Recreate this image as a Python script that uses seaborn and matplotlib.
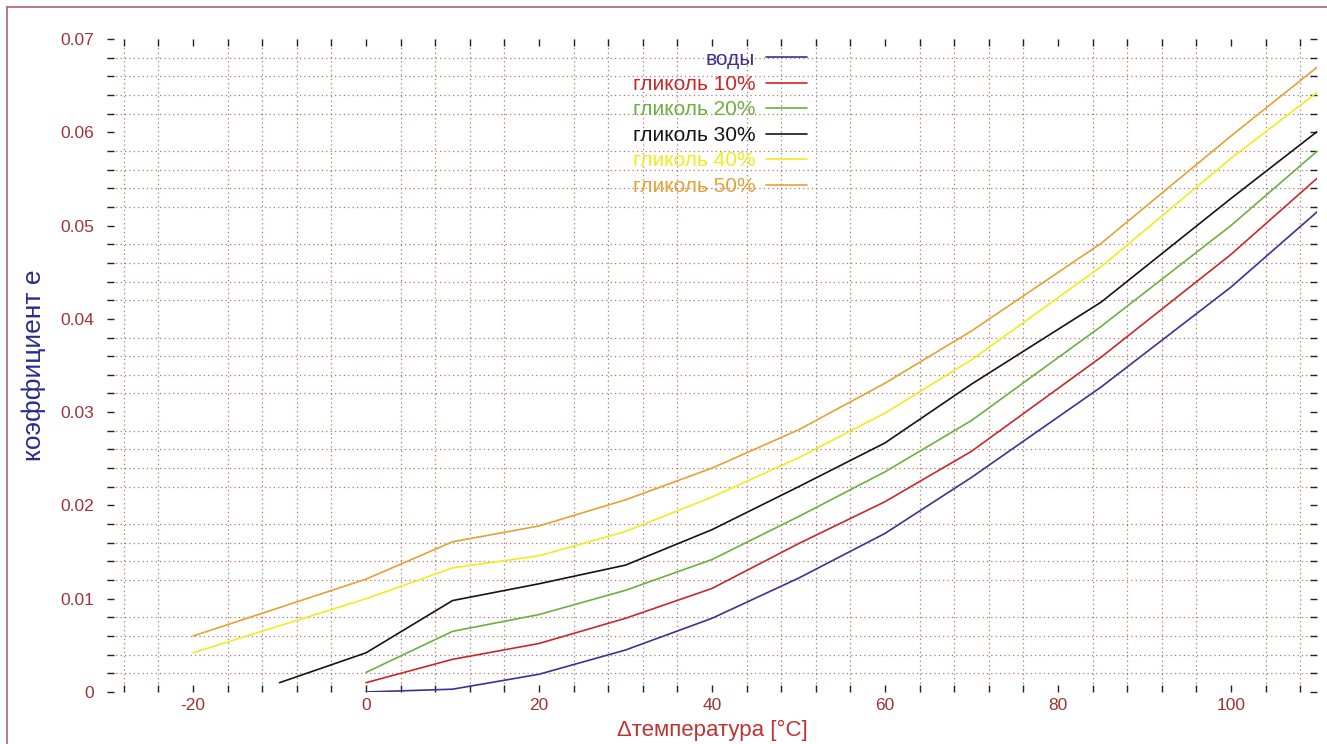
import matplotlib
matplotlib.use("Agg")
import matplotlib.pyplot as plt
import numpy as np
import pandas as pd
import seaborn as sns
from matplotlib.lines import Line2D

# temperatures (°C) for each curve
x_water = [0, 10, 20, 30, 40, 50, 60, 70, 85, 100, 110]
x_g10 = [0, 10, 20, 30, 40, 50, 60, 70, 85, 100, 110]
x_g20 = [0, 10, 20, 30, 40, 50, 60, 70, 85, 100, 110]
x_g30 = [-10, 0, 10, 20, 30, 40, 50, 60, 70, 85, 100, 110]
x_g40 = [-20, 0, 10, 20, 30, 40, 50, 60, 70, 85, 100, 110]
x_g50 = [-20, 0, 10, 20, 30, 40, 50, 60, 70, 85, 100, 110]

# coefficient e
water = [0.0, 0.0003, 0.0019, 0.0045, 0.0079, 0.0122, 0.0170, 0.0230, 0.0327, 0.0434, 0.0515]
g10 = [0.0010, 0.0035, 0.0052, 0.0079, 0.0111, 0.0159, 0.0204, 0.0258, 0.0359, 0.0469, 0.0551]
g20 = [0.0021, 0.0065, 0.0083, 0.0109, 0.0142, 0.0188, 0.0236, 0.0291, 0.0392, 0.0500, 0.0580]
g30 = [0.0010, 0.0042, 0.0098, 0.0116, 0.0136, 0.0174, 0.0220, 0.0267, 0.0330, 0.0418, 0.0529, 0.0601]
g40 = [0.0042, 0.0100, 0.0133, 0.0146, 0.0172, 0.0209, 0.0251, 0.0299, 0.0356, 0.0456, 0.0572, 0.0643]
g50 = [0.0060, 0.0121, 0.0161, 0.0178, 0.0206, 0.0240, 0.0281, 0.0331, 0.0387, 0.0481, 0.0596, 0.0670]

labels = ["воды", "гликоль 10%", "гликоль 20%", "гликоль 30%", "гликоль 40%", "гликоль 50%"]
colors = ["#3b3292", "#c8282a", "#6cb040", "#141414", "#f4ea1c", "#e3a233"]

x_ticks = [-20, 0, 20, 40, 60, 80, 100]
y_ticks = [0, 0.01, 0.02, 0.03, 0.04, 0.05, 0.06, 0.07]
y_tick_labels = ["0", "0.01", "0.02", "0.03", "0.04", "0.05", "0.06", "0.07"]

sns.set_style("white")
plt.rcParams['font.family'] = ['Liberation Sans', 'DejaVu Sans']
plt.rcParams['axes.unicode_minus'] = False

fig = plt.figure(figsize=(13.27, 7.44), dpi=100)
ax = fig.add_axes([0.0803, 0.0699, 0.9125, 0.8777])

series = [(x_water, water), (x_g10, g10), (x_g20, g20), (x_g30, g30), (x_g40, g40), (x_g50, g50)]
for (xs, ys), lab, col in zip(series, labels, colors):
    sns.lineplot(x=xs, y=ys, color=col, label=lab, linewidth=1.2, ax=ax, sort=False)

ax.set_xlim(-30, 110)
ax.set_ylim(0, 0.07)

# dotted grid
ax.set_xticks(np.arange(-28, 110, 4), minor=True)
ax.set_yticks(np.arange(0, 0.0701, 0.002), minor=True)
ax.set_xticks(x_ticks)
ax.set_yticks(y_ticks)
ax.set_yticklabels(y_tick_labels)
ax.grid(which="minor", color="#a0504f", linestyle=(0, (1, 2.5)), linewidth=0.9, alpha=0.8)
ax.grid(which="major", visible=False)
ax.set_axisbelow(True)

for s in ax.spines.values():
    s.set_visible(False)

ax.tick_params(which="both", direction="in", top=True, right=True, bottom=True, left=True,
               length=5, width=1.0, color="#222222")
ax.tick_params(which="major", labelsize=12.5, labelcolor="#a33232")
ax.tick_params(axis="y", which="major", pad=9)
ax.tick_params(axis="x", which="major", pad=4)

ax.set_xlabel("Δтемпература [°C]", fontsize=16, color="#c03232", labelpad=5)
ax.set_ylabel("коэффициент е", fontsize=19, color="#2b2b8a", labelpad=10)

leg = ax.legend(loc="upper right", bbox_to_anchor=(0.589, 1.003), frameon=False,
                markerfirst=False, labelcolor="linecolor", fontsize=15,
                handlelength=2.0, handletextpad=0.5, labelspacing=0.31, borderaxespad=0.2)

# outer frame lines (top and left)
fig.add_artist(Line2D([0.0053, 1.0], [0.9906, 0.9906], color="#b06070", linewidth=1.2))
fig.add_artist(Line2D([0.0053, 0.0053], [0.0, 0.9906], color="#b06070", linewidth=1.2))

fig.savefig("out.png", dpi=100)
